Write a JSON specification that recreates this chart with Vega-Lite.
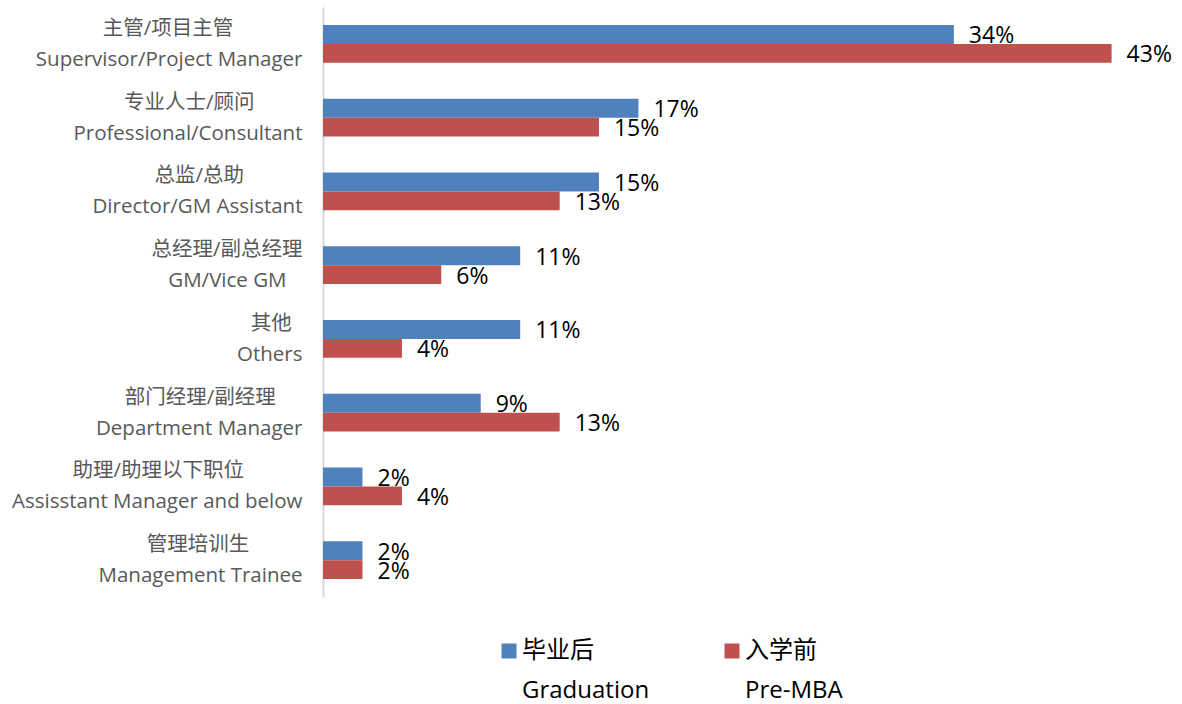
{
  "$schema": "https://vega.github.io/schema/vega-lite/v6.json",
  "width": 834,
  "height": 590,
  "autosize": {"type": "none"},
  "padding": {"left": 323, "top": 7, "right": 25, "bottom": 107},
  "background": "white",
  "config": {"view": {"stroke": null}, "font": "Open Sans, Noto Sans CJK SC"},
  "data": {
    "values": [
      {"role": "主管/项目主管\u00a0\u00a0\u00a0\u00a0\u00a0\u00a0\u00a0\u00a0\u00a0\u00a0\u00a0\u00a0\u00a0\u200b|Supervisor/Project Manager", "series": "毕业后|Graduation", "share": 0.3404},
      {"role": "主管/项目主管\u00a0\u00a0\u00a0\u00a0\u00a0\u00a0\u00a0\u00a0\u00a0\u00a0\u00a0\u00a0\u00a0\u200b|Supervisor/Project Manager", "series": "入学前|Pre-MBA", "share": 0.4255},
      {"role": "专业人士/顾问\u00a0\u00a0\u00a0\u00a0\u00a0\u00a0\u00a0\u00a0\u00a0\u200b|Professional/Consultant", "series": "毕业后|Graduation", "share": 0.1702},
      {"role": "专业人士/顾问\u00a0\u00a0\u00a0\u00a0\u00a0\u00a0\u00a0\u00a0\u00a0\u200b|Professional/Consultant", "series": "入学前|Pre-MBA", "share": 0.1489},
      {"role": "总监/总助\u00a0\u00a0\u00a0\u00a0\u00a0\u00a0\u00a0\u00a0\u00a0\u00a0\u00a0\u200b|Director/GM Assistant", "series": "毕业后|Graduation", "share": 0.1489},
      {"role": "总监/总助\u00a0\u00a0\u00a0\u00a0\u00a0\u00a0\u00a0\u00a0\u00a0\u00a0\u00a0\u200b|Director/GM Assistant", "series": "入学前|Pre-MBA", "share": 0.1277},
      {"role": "总经理/副总经理|GM/Vice GM\u00a0\u00a0\u00a0\u200b", "series": "毕业后|Graduation", "share": 0.1064},
      {"role": "总经理/副总经理|GM/Vice GM\u00a0\u00a0\u00a0\u200b", "series": "入学前|Pre-MBA", "share": 0.0638},
      {"role": "其他\u00a0\u00a0\u200b|Others", "series": "毕业后|Graduation", "share": 0.1064},
      {"role": "其他\u00a0\u00a0\u200b|Others", "series": "入学前|Pre-MBA", "share": 0.0426},
      {"role": "部门经理/副经理\u00a0\u00a0\u00a0\u00a0\u00a0\u200b|Department Manager", "series": "毕业后|Graduation", "share": 0.0851},
      {"role": "部门经理/副经理\u00a0\u00a0\u00a0\u00a0\u00a0\u200b|Department Manager", "series": "入学前|Pre-MBA", "share": 0.1277},
      {"role": "助理/助理以下职位\u00a0\u00a0\u00a0\u00a0\u00a0\u00a0\u00a0\u00a0\u00a0\u00a0\u00a0\u200b|Assisstant Manager and below", "series": "毕业后|Graduation", "share": 0.0213},
      {"role": "助理/助理以下职位\u00a0\u00a0\u00a0\u00a0\u00a0\u00a0\u00a0\u00a0\u00a0\u00a0\u00a0\u200b|Assisstant Manager and below", "series": "入学前|Pre-MBA", "share": 0.0426},
      {"role": "管理培训生\u00a0\u00a0\u00a0\u00a0\u00a0\u00a0\u00a0\u00a0\u00a0\u00a0\u200b|Management Trainee", "series": "毕业后|Graduation", "share": 0.0213},
      {"role": "管理培训生\u00a0\u00a0\u00a0\u00a0\u00a0\u00a0\u00a0\u00a0\u00a0\u00a0\u200b|Management Trainee", "series": "入学前|Pre-MBA", "share": 0.0213}
    ]
  },
  "encoding": {
    "y": {
      "field": "role",
      "type": "nominal",
      "sort": null,
      "scale": {"paddingInner": 0.485, "paddingOuter": 0.2425},
      "axis": {
        "title": null,
        "ticks": false,
        "tickSize": 0,
        "labelPadding": 21,
        "labelFontSize": 20.5,
        "labelColor": "#595959",
        "labelLineHeight": 31,
        "labelOffset": -15,
        "labelLimit": 500,
        "labelExpr": "split(datum.label, '|')",
        "domainColor": "#D9D9D9",
        "domainWidth": 2,
        "grid": false
      }
    },
    "yOffset": {
      "field": "series",
      "type": "nominal",
      "sort": ["毕业后|Graduation", "入学前|Pre-MBA"],
      "scale": {"paddingInner": 0, "paddingOuter": 0}
    },
    "x": {
      "field": "share",
      "type": "quantitative",
      "scale": {"domain": [0, 0.45], "nice": false},
      "axis": null
    }
  },
  "layer": [
    {
      "mark": {"type": "bar"},
      "encoding": {
        "color": {
          "field": "series",
          "type": "nominal",
          "scale": {"domain": ["毕业后|Graduation", "入学前|Pre-MBA"], "range": ["#4F81BD", "#C0504D"]},
          "legend": {
            "orient": "none",
            "legendX": 174,
            "legendY": 632,
            "direction": "horizontal",
            "title": null,
            "padding": 0,
            "symbolType": "square",
            "symbolSize": 225,
            "symbolStrokeWidth": 0,
            "labelFontSize": 24,
            "labelColor": "black",
            "labelOffset": 1,
            "columnPadding": 70,
            "labelLimit": 500,
            "labelExpr": "split(datum.label, '|')",
            "encode": {"labels": {"update": {"lineHeight": {"value": 40}}}}
          }
        }
      }
    },
    {
      "mark": {"type": "text", "align": "left", "baseline": "middle", "dx": 15, "dy": 2, "fontSize": 23, "color": "black"},
      "encoding": {
        "text": {"field": "share", "type": "quantitative", "format": ".0%"}
      }
    }
  ]
}
